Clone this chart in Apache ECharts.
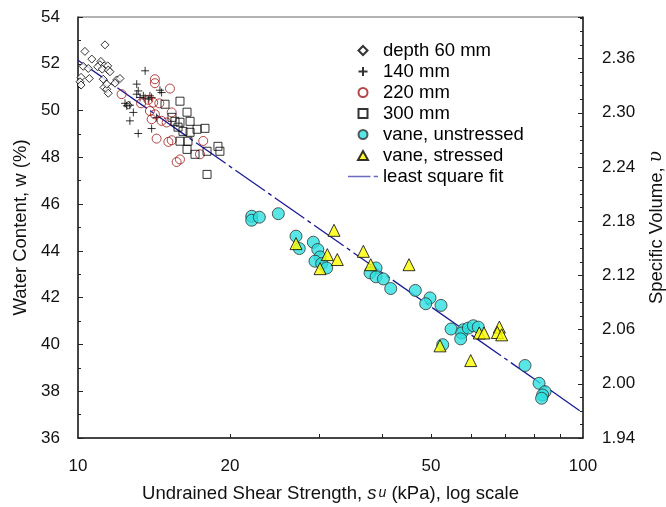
<!DOCTYPE html>
<html><head><meta charset="utf-8">
<script src="https://cdn.jsdelivr.net/npm/echarts@6/dist/echarts.min.js"></script>
<style>html,body{margin:0;padding:0;background:#fff}#c{width:666px;height:507px}</style>
</head><body><div id="c"></div>
<script>
// [su (kPa), water content w (%)]
const depth60 = [[11.31,52.81],[10.32,52.53],[10.65,52.2],[11.10,52.10],[11.05,51.96],[11.27,51.91],[11.45,51.91],[10.94,51.87],[11.17,51.77],[11.48,51.73],[10.24,51.89],[10.48,51.80],[10.14,51.42],[10.09,51.23],[10.14,51.09],[10.53,51.37],[11.22,51.34],[11.57,51.66],[11.93,51.31],[12.11,51.37],[11.26,50.99],[11.40,50.91],[12.58,50.23],[11.40,51.13],[11.84,51.17],[11.48,50.74]];
const depth140 = [[13.58,51.70],[13.07,51.13],[13.16,50.84],[14.53,50.87],[14.64,50.77],[13.27,50.56],[13.58,50.53],[13.78,50.49],[13.99,50.56],[12.49,50.20],[13.07,50.70],[13.47,50.63],[13.88,50.63],[12.39,50.31],[12.67,50.23],[12.87,49.92],[12.67,49.56],[13.16,49.02],[13.99,49.23],[14.31,49.70]];
const depth220 = [[12.20,50.70],[14.20,51.34],[14.20,51.17],[15.21,50.94],[13.78,50.46],[14.49,50.31],[13.88,49.98],[14.20,49.84],[13.99,49.63],[14.64,49.56],[14.98,49.49],[15.33,49.92],[14.31,48.80],[15.10,48.66],[15.33,48.73],[15.68,47.80],[15.92,47.91],[17.70,48.70],[17.44,48.13],[14.09,50.34],[13.33,50.31]];
const depth300 = [[14.87,50.27],[15.92,50.40],[16.44,49.93],[15.35,49.71],[15.56,49.54],[15.92,49.50],[16.67,49.54],[17.21,49.20],[17.84,49.24],[15.78,49.29],[16.14,49.11],[16.67,49.07],[15.92,48.69],[16.51,48.69],[16.44,48.34],[17.05,48.13],[18.01,48.26],[18.93,48.47],[19.10,48.26],[18.01,47.27]];
const vaneUnstressed = [[22.08,45.48],[22.08,45.31],[22.86,45.44],[24.93,45.59],[27.02,44.63],[27.43,44.10],[29.24,44.37],[29.84,44.06],[30.15,43.74],[29.46,43.56],[30.38,43.46],[31.08,43.27],[38.92,43.27],[37.87,43.06],[38.92,42.89],[40.24,42.80],[41.61,42.39],[46.55,42.31],[49.78,41.99],[48.81,41.74],[52.34,41.67],[54.79,40.66],[57.94,40.63],[57.52,40.49],[57.25,40.24],[59.28,40.70],[60.65,40.80],[62.04,40.74],[52.75,39.99],[76.77,39.10],[81.84,38.34],[84.10,37.98],[83.2,37.84],[82.8,37.70]];
const vaneStressed = [[27.02,44.31],[32.13,44.88],[31.17,43.84],[32.62,43.63],[30.15,43.24],[36.73,43.98],[37.99,43.41],[45.23,43.41],[52.1,39.94],[59.93,39.31],[62.32,40.49],[63.68,40.49],[68.29,40.74],[67.67,40.51],[69.02,40.41]];
const fitLine = [[10,52.15],[100,37.07]];
const xTickLabels = [10,20,50,100];
const xMinorTicks = [20,30,40,50,60,70,80,90];
const seriesNames = ['depth 60 mm','140 mm','220 mm','300 mm','vane, unstressed','vane, stressed','least square fit'];
const FONT = '"Liberation Sans", Arial, sans-serif';

const legendIcons = [
  'path://M5,0L10,5L5,10L0,5Z',
  'path://M5,0L5,10M0,5L10,5',
  'path://M5,0A5,5,0,1,1,5,10A5,5,0,1,1,5,0Z',
  'path://M0,0L10,0L10,10L0,10Z',
  'path://M5,0A5,5,0,1,1,5,10A5,5,0,1,1,5,0Z',
  'path://M5,0L10,9L0,9Z',
  'path://M0,0L21,0L21,1.6L0,1.6Z M24,0L28,0L28,1.6L24,1.6Z'
];

const chart = echarts.init(document.getElementById('c'));
const axisLine = {show:true, lineStyle:{color:'#222', width:1.5}};
const txt = {fontFamily:FONT, fontSize:17, color:'#111'};
chart.setOption({
  animation:false,
  grid:{left:78, right:83, top:17, bottom:69, show:true, borderColor:'#666', borderWidth:1, outerBoundsMode:'none', containLabel:false},
  legend:{
    orient:'vertical', left:343, top:35, itemWidth:30, itemHeight:9, itemGap:0, symbolKeepAspect:true,
    textStyle:{fontFamily:FONT, fontSize:18.5, color:'#000', lineHeight:21},
    data:seriesNames.map((n,i)=>({name:n, icon:legendIcons[i]}))
  },
  xAxis:[
    {type:'log', logBase:10, min:10, max:100, axisLine:axisLine,
     axisLabel:{show:false}, axisTick:{show:false}, splitLine:{show:false}, minorTick:{show:false}},
    {type:'value', min:1, max:2, position:'bottom', axisLine:{show:false}, splitLine:{show:false},
     axisTick:{show:true, inside:true, length:4, lineStyle:{color:'#222'}, customValues:xMinorTicks.map(Math.log10)},
     axisLabel:{show:true, margin:20, ...txt, customValues:xTickLabels.map(Math.log10), formatter:v=>String(Math.round(Math.pow(10,v)))},
     name:'{n|Undrained Shear Strength, }{i|s}{u|u}{n| (kPa), log scale}',
     nameLocation:'middle', nameGap:46,
     nameTextStyle:{rich:{n:{...txt,fontSize:18.5}, i:{...txt,fontSize:18.5,fontStyle:'italic'}, u:{...txt,fontSize:14,fontStyle:'italic', padding:[0,0,0,2]}}}}
  ],
  yAxis:[
    {type:'value', min:36, max:54, interval:2, axisLine:axisLine, splitLine:{show:false},
     axisTick:{inside:true, length:5, lineStyle:{color:'#222'}},
     minorTick:{show:true, splitNumber:2, length:3, lineStyle:{color:'#222'}},
     axisLabel:{margin:18, ...txt},
     name:'Water Content, w (%)', nameLocation:'middle', nameGap:37, nameRotate:90,
     nameTextStyle:{...txt, fontSize:18.5}},
    {type:'value', min:1.94, max:2.406, interval:0.06, position:'right', axisLine:axisLine, splitLine:{show:false},
     axisTick:{inside:true, length:5, lineStyle:{color:'#222'}},
     minorTick:{show:true, splitNumber:4, length:3, lineStyle:{color:'#222'}},
     axisLabel:{margin:19, ...txt, showMaxLabel:false, formatter:v=>v.toFixed(2)},
     name:'{n|Specific Volume, }{i|υ}', nameLocation:'middle', nameGap:64, nameRotate:90,
     nameTextStyle:{rich:{n:{...txt,fontSize:18.5}, i:{...txt,fontSize:18.5,fontStyle:'italic',fontFamily:'"DejaVu Serif", serif'}}}}
  ],
  series:[
    {name:seriesNames[0], type:'scatter', data:depth60, symbol:'diamond', symbolSize:8,
     itemStyle:{color:'#fff', borderColor:'#000', borderWidth:1}},
    {name:seriesNames[1], type:'scatter', data:depth140, symbol:'path://M5,0L5,10M0,5L10,5', symbolSize:8,
     itemStyle:{color:'none', borderColor:'#000', borderWidth:1}},
    {name:seriesNames[2], type:'scatter', data:depth220, symbol:'circle', symbolSize:9,
     itemStyle:{color:'rgba(255,255,255,0)', borderColor:'#a01818', borderWidth:1}},
    {name:seriesNames[3], type:'scatter', data:depth300, symbol:'rect', symbolSize:8,
     itemStyle:{color:'rgba(255,255,255,0)', borderColor:'#000', borderWidth:1}},
    {name:seriesNames[4], type:'scatter', data:vaneUnstressed, symbol:'circle', symbolSize:12,
     itemStyle:{color:'#2ee0e0', borderColor:'#333', borderWidth:1}},
    {name:seriesNames[5], type:'scatter', data:vaneStressed, symbol:'triangle', symbolSize:12,
     itemStyle:{color:'#ffff00', borderColor:'#000', borderWidth:1}},
    {name:seriesNames[6], type:'line', data:fitLine, symbol:'none', z:1,
     lineStyle:{color:'#1a1a99', width:1.3, type:[36,4,4,4]}, itemStyle:{color:'#6a6ac0'}}
  ]
});
</script></body></html>
